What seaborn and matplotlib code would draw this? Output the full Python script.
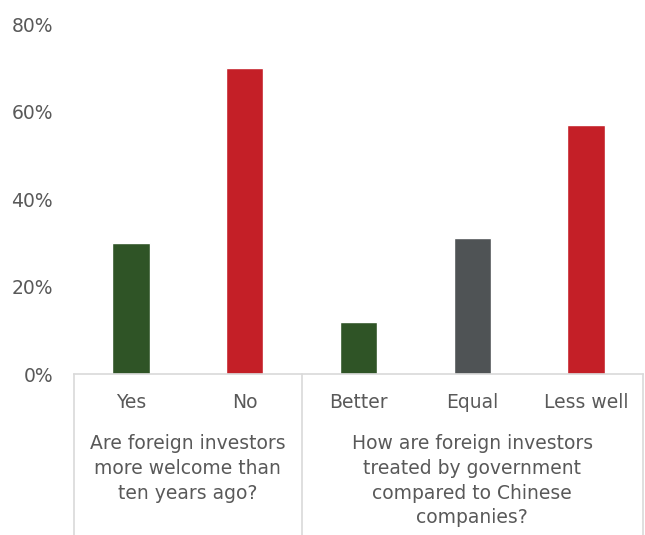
import matplotlib
matplotlib.use('Agg')
import matplotlib.pyplot as plt
import matplotlib.transforms as mtransforms
from matplotlib.ticker import PercentFormatter
import seaborn as sns

# Data
answers = ['Yes', 'No', 'Better', 'Equal', 'Less well']
shares = [0.30, 0.70, 0.12, 0.31, 0.57]
bar_colors = ['#2f5426', '#c41f27', '#2f5426', '#4f5355', '#c41f27']
questions = ['Are foreign investors\nmore welcome than\nten years ago?',
             'How are foreign investors\ntreated by government\ncompared to Chinese\ncompanies?']
question_spans = [(-0.5, 1.5), (1.5, 4.5)]

sns.set_style('white')
plt.rcParams['font.family'] = ['DejaVu Sans']
text_color = '#595959'
line_color = '#d9d9d9'

fig = plt.figure(figsize=(6.45, 5.35), dpi=100)
ax = fig.add_axes([0.1147, 0.3009, 0.8823, 0.6541])

sns.barplot(x=answers, y=shares, hue=answers, palette=bar_colors,
            legend=False, width=0.33, saturation=1, ax=ax)

ax.set_xlim(-0.5, 4.5)
ax.set_ylim(0, 0.8)
ax.yaxis.set_major_formatter(PercentFormatter(1.0, decimals=0))
ax.set_yticks([0, 0.2, 0.4, 0.6, 0.8])
ax.tick_params(axis='y', length=0, pad=15, labelsize=13.5, labelcolor=text_color)
ax.tick_params(axis='x', length=0, pad=14, labelsize=13.5, labelcolor=text_color)
ax.set_xlabel('')
ax.set_ylabel('')

for side in ['left', 'right', 'top']:
    ax.spines[side].set_visible(False)
ax.spines['bottom'].set_color(line_color)
ax.spines['bottom'].set_linewidth(1.2)

# Category group separators and labels
trans = mtransforms.blended_transform_factory(ax.transData, ax.transAxes)
for x in [-0.5, 1.5, 4.5]:
    ax.plot([x, x], [0, -0.47], transform=trans, color=line_color,
            linewidth=1.2, clip_on=False)

for (x0, x1), q in zip(question_spans, questions):
    ax.text((x0 + x1) / 2, -0.172, q, transform=trans, ha='center', va='top',
            fontsize=13.5, color=text_color, linespacing=1.38)

fig.savefig('out.png', dpi=100)
